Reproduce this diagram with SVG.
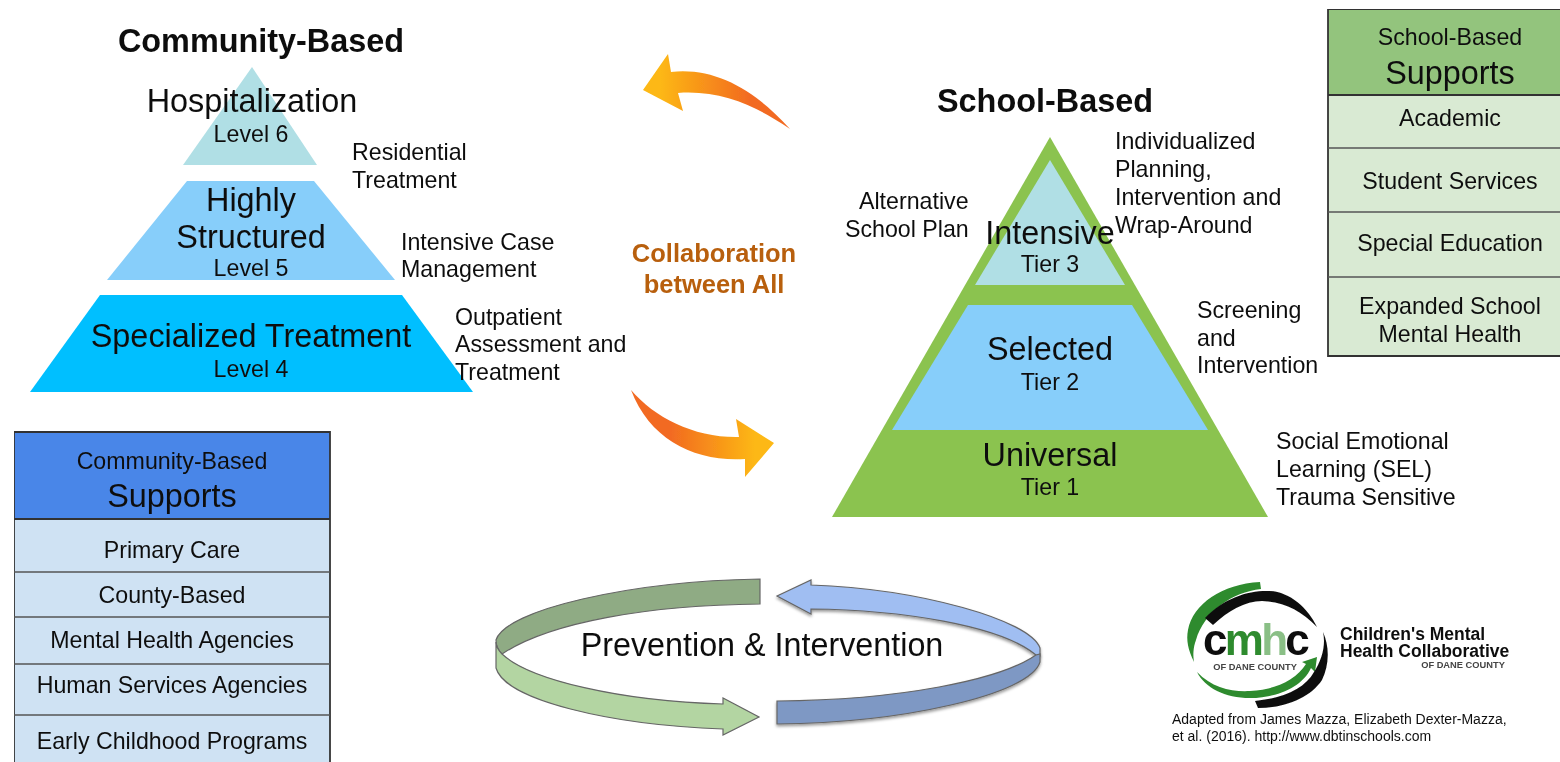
<svg xmlns="http://www.w3.org/2000/svg" width="1560" height="762" viewBox="0 0 1560 762">
<defs>
<linearGradient id="gl" gradientUnits="userSpaceOnUse" x1="660" y1="0" x2="750" y2="0"><stop offset="0" stop-color="#fdb813"/><stop offset="1" stop-color="#f26a21"/></linearGradient>
<linearGradient id="gr" gradientUnits="userSpaceOnUse" x1="755" y1="0" x2="670" y2="0"><stop offset="0" stop-color="#fdb813"/><stop offset="1" stop-color="#f26a21"/></linearGradient>
<filter id="soft" x="0" y="0" width="100%" height="100%"><feGaussianBlur stdDeviation="0.55"/></filter>
<filter id="sh" x="-5%" y="-10%" width="110%" height="125%"><feDropShadow dx="0" dy="2" stdDeviation="1.5" flood-color="#000" flood-opacity="0.4"/></filter>
</defs>
<style>
text{font-family:"Liberation Sans",Arial,sans-serif;fill:#111;text-anchor:middle}
.l{text-anchor:start;font-size:23.2px}
.t{font-size:32.4px;font-weight:bold}
.big{font-size:32.4px}
.tier{font-size:23.2px}
.row{font-size:23.2px}
.ln{stroke:#333;stroke-width:1.8;fill:none}
.ring{stroke:#666;stroke-width:1.2}
.lg{font-weight:bold;font-size:17.5px;text-anchor:start}
.cty{font-size:9.3px;font-weight:bold;fill:#444}
</style>
<rect width="1560" height="762" fill="#fff"/>
<g filter="url(#soft)">
<g id="connectors">
<path d="M643 90L668 54L671 72C715 67 755 90 790 129C755 105 720 90 678 93L683 111Z" fill="url(#gl)"/>
<path d="M631 390C655 418 695 438 739 437L736 419L774 443L745 477L745 459C695 462 650 440 631 390Z" fill="url(#gr)"/>
<text x="714" y="262" style="font-size:25.5px;font-weight:bold;fill:#b85f0b">Collaboration</text>
<text x="714" y="293" style="font-size:25.5px;font-weight:bold;fill:#b85f0b">between All</text>
</g>
<g id="community-title"><text class="t" x="261" y="52">Community-Based</text></g>
<g id="level6"><path d="M252 67L317 165H183Z" fill="#b0dfe5"/><text class="big" x="252" y="112">Hospitalization</text><text class="tier" x="251" y="142">Level 6</text></g>
<g id="level5"><path d="M187 181H314L395 280H107Z" fill="#87cefa"/><text class="big" x="251" y="211">Highly</text><text class="big" x="251" y="248">Structured</text><text class="tier" x="251" y="276">Level 5</text></g>
<g id="level4"><path d="M100 295H402L473 392H30Z" fill="#00bfff"/><text class="big" x="251" y="347">Specialized Treatment</text><text class="tier" x="251" y="377">Level 4</text></g>
<g id="community-labels">
<text class="l" x="352" y="160">Residential</text><text class="l" x="352" y="188">Treatment</text>
<text class="l" x="401" y="250">Intensive Case</text><text class="l" x="401" y="277">Management</text>
<text class="l" x="455" y="325">Outpatient</text><text class="l" x="455" y="352">Assessment and</text><text class="l" x="455" y="380">Treatment</text>
</g>
<g id="school-title"><text class="t" x="1045" y="112">School-Based</text></g>
<g id="tier-base"><path d="M1050 137L1268 517H832Z" fill="#8bc34f"/></g>
<g id="tier3"><path d="M1050 160L1125 285H975Z" fill="#b0dfe5"/><text class="big" x="1050" y="244">Intensive</text><text class="tier" x="1050" y="272">Tier 3</text></g>
<g id="tier2"><path d="M968 305H1132L1208 430H892Z" fill="#87cefa"/><text class="big" x="1050" y="360">Selected</text><text class="tier" x="1050" y="390">Tier 2</text></g>
<g id="tier1"><text class="big" x="1050" y="466">Universal</text><text class="tier" x="1050" y="495">Tier 1</text></g>
<g id="school-labels">
<text class="l" x="1115" y="149">Individualized</text><text class="l" x="1115" y="177">Planning,</text><text class="l" x="1115" y="205">Intervention and</text><text class="l" x="1115" y="233">Wrap-Around</text>
<text class="l" x="859" y="209">Alternative</text><text class="l" x="845" y="237">School Plan</text>
<text class="l" x="1197" y="318">Screening</text><text class="l" x="1197" y="346">and</text><text class="l" x="1197" y="373">Intervention</text>
<text class="l" x="1276" y="449">Social Emotional</text><text class="l" x="1276" y="477">Learning (SEL)</text><text class="l" x="1276" y="505">Trauma Sensitive</text>
</g>
<g id="school-supports">
<rect x="1328" y="9" width="232" height="86" fill="#93c47d"/>
<rect x="1328" y="95" width="232" height="261" fill="#d9ead3"/>
<path class="ln" d="M1560 9H1328V356H1560M1328 95H1560"/>
<path class="ln" style="stroke:#555;stroke-width:1.3" d="M1328 148H1560M1328 212H1560M1328 277H1560"/>
<text x="1450" y="45" style="font-size:23.2px">School-Based</text><text class="big" x="1450" y="84">Supports</text>
<text class="row" x="1450" y="126">Academic</text><text class="row" x="1450" y="189">Student Services</text><text class="row" x="1450" y="251">Special Education</text><text class="row" x="1450" y="314">Expanded School</text><text class="row" x="1450" y="342">Mental Health</text>
</g>
<g id="community-supports">
<rect x="14" y="432" width="316" height="87" fill="#4a86e8"/>
<rect x="14" y="519" width="316" height="243" fill="#cfe2f3"/>
<path class="ln" d="M14 762V432H330V762M14 519H330"/>
<path class="ln" style="stroke:#555;stroke-width:1.4" d="M14 572H330M14 617H330M14 664H330M14 715H330"/>
<text x="172" y="469" style="font-size:23.2px">Community-Based</text><text class="big" x="172" y="507">Supports</text>
<text class="row" x="172" y="558">Primary Care</text><text class="row" x="172" y="603">County-Based</text><text class="row" x="172" y="648">Mental Health Agencies</text><text class="row" x="172" y="693">Human Services Agencies</text><text class="row" x="172" y="749">Early Childhood Programs</text>
</g>
<g id="cycle">
<path class="ring" d="M760 579V604C650 605 550 622 502 654C498 650 496 645 496 640C505 610 630 581 760 579Z" fill="#8fab84"/>
<path class="ring" d="M496 642V668C505 700 610 725 723 729V735L759 717L723 698V704C620 701 530 680 502 654C498 650 496 645 496 642Z" fill="#b3d5a2"/>
<path class="ring" d="M777 596L811 580V585C920 589 1030 620 1040 648V656L1036 655C1000 625 900 610 811 609V614Z" fill="#a0bef2" filter="url(#sh)"/>
<path class="ring" d="M777 701V724C900 723 1030 695 1040 662V654L1036 655C1000 680 900 700 777 701Z" fill="#7e98c4" filter="url(#sh)"/>
<text x="762" y="656" style="font-size:32.3px">Prevention &amp; Intervention</text>
</g>
<g id="logo">
<path d="M1260 582L1261 589C1232 592 1204 612 1196 640C1193 648 1193 655 1194 662C1188 650 1186 640 1188 630C1193 604 1222 584 1260 582Z" fill="#2e8b2e"/>
<path d="M1197 672C1212 688 1232 692 1250 691C1275 690 1296 680 1306 664L1302 662L1317 657L1315 672L1311 668C1302 688 1275 698 1250 698C1225 698 1205 688 1197 672Z" fill="#2e8b2e"/>
<path d="M1205 618C1225 597 1250 590 1270 591C1290 592 1308 608 1317 627C1300 610 1285 602 1262 601C1245 601 1228 611 1213 625Z" fill="#111"/>
<path d="M1255 701C1285 698 1305 688 1314 672C1322 660 1326 645 1323 632C1330 648 1329 665 1322 680C1310 698 1285 708 1258 708Z" fill="#111"/>
<text x="1255" y="655" style="font-size:44px;font-weight:bold;letter-spacing:-2.7px">c<tspan style="fill:#2e8b2e">m</tspan><tspan style="fill:#8abf86">h</tspan>c</text>
<text class="cty" x="1255" y="670">OF DANE COUNTY</text>
<text class="lg" x="1340" y="640">Children's Mental</text>
<text class="lg" x="1340" y="657">Health Collaborative</text>
<text class="cty" x="1463" y="668">OF DANE COUNTY</text>
</g>
<g id="credit">
<text class="l" x="1172" y="724" style="font-size:14px">Adapted from James Mazza, Elizabeth Dexter-Mazza,</text>
<text class="l" x="1172" y="741" style="font-size:14px">et al. (2016). http://www.dbtinschools.com</text>
</g>
</g>
</svg>
